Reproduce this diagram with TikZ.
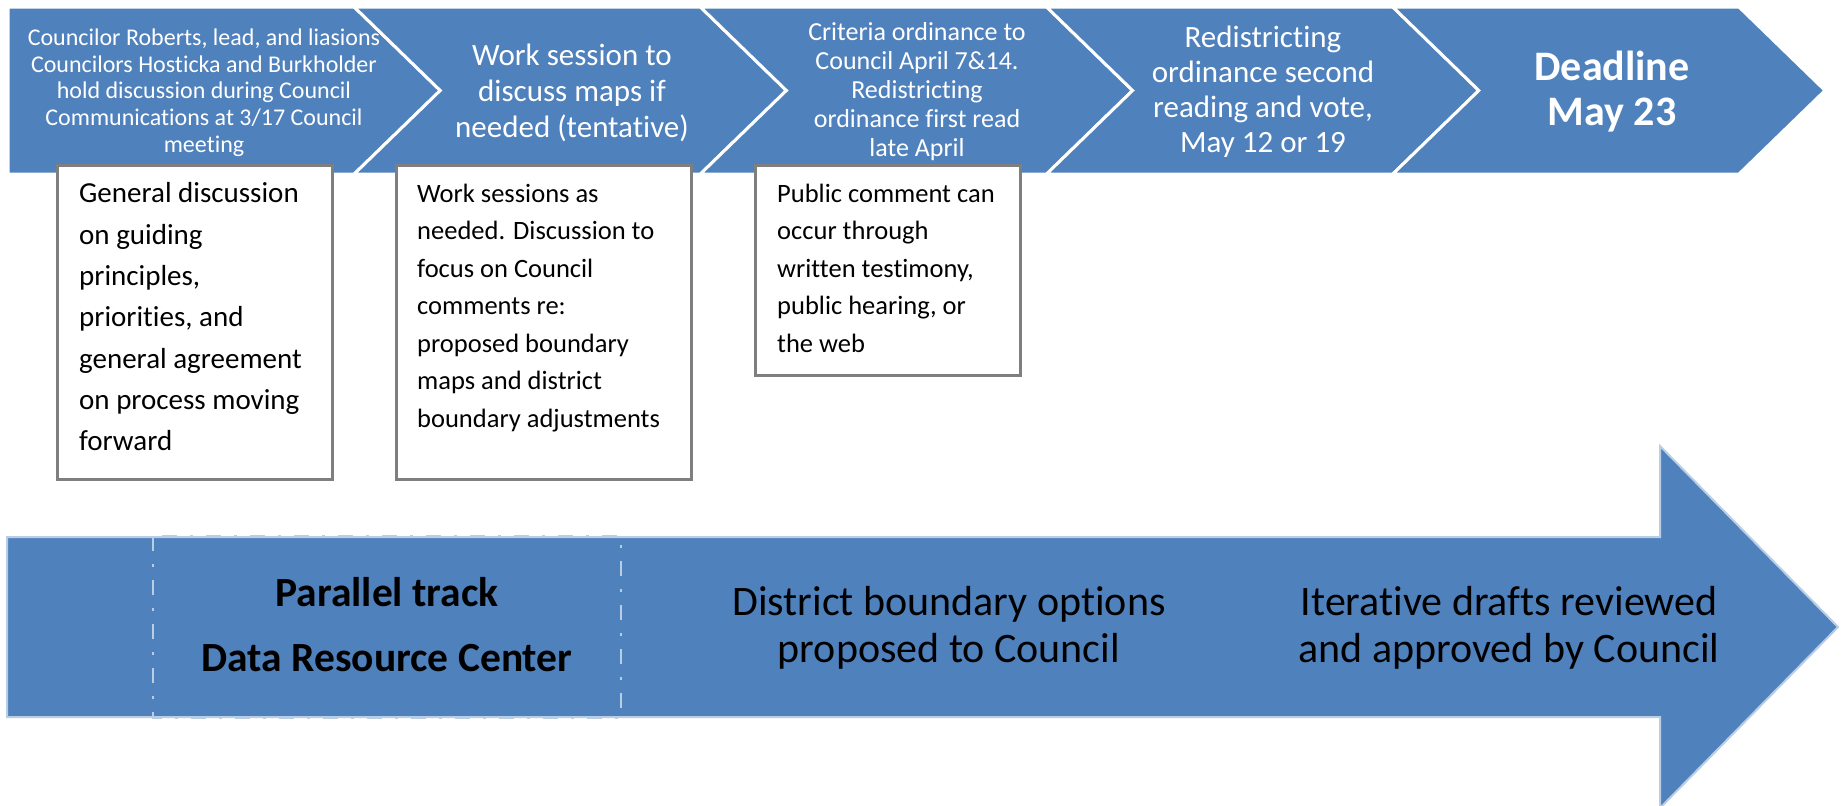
\documentclass[tikz,border=0pt]{standalone}
\usepackage{fontspec}
\setmainfont{Carlito}[Ligatures=NoCommon]
\usepackage{tikz}
\definecolor{chevblue}{HTML}{4F81BD}
\definecolor{edgeblue}{HTML}{B9CDE5}
\definecolor{boxgray}{HTML}{7F7F7F}

\begin{document}
\begin{tikzpicture}[x=1pt,y=-1pt,
    chevtext/.style={text=white,align=center,inner sep=0pt},
    notetext/.style={align=left,inner sep=0pt,anchor=north west,font=\fontsize{26.5}{37.5}\selectfont},
    notebox/.style={boxgray,line width=3,fill=white},
    bartext/.style={align=center,inner sep=0pt}]
    \useasboundingbox (0,0) rectangle (1848,806);
    % Chevrons along the top, the first one without a notch
    \foreach \i in {0,...,4} {
      \pgfmathsetmacro{\xl}{8+346.2*\i}
      \pgfmathsetmacro{\xr}{\xl+346.2}
      \pgfmathsetmacro{\nd}{(\i>0)*86}
      \draw[white,line width=3,fill=chevblue] (\xl,7) -- (\xr,7) -- ({\xr+86},90.5)
        -- (\xr,174) -- (\xl,174) -- ({\xl+\nd},90.5) -- cycle;
    }
    \node (c1) [chevtext,font=\fontsize{24}{26.7}\selectfont] at (204,92.5)
      {Councilor Roberts, lead, and liasions\\Councilors Hosticka and Burkholder\\hold discussion during Council\\Communications at 3/17 Council\\meeting};
    \node (c2) [chevtext,font=\fontsize{31}{35.8}\selectfont] at (572,93)
      {Work session to\\discuss maps if\\needed (tentative)};
    \node (c3) [chevtext,font=\fontsize{26}{29}\selectfont] at (917,92)
      {Criteria ordinance to\\Council April 7\&14.\\Redistricting\\ordinance first read\\late April};
    \node (c4) [chevtext,font=\fontsize{31}{35}\selectfont] at (1263,91.5)
      {Redistricting\\ordinance second\\reading and vote,\\May 12 or 19};
    \node (c5) [chevtext,font=\bfseries\fontsize{42}{45}\selectfont] at (1612,92)
      {Deadline\\May 23};
    % Note boxes hanging under the chevrons
    \draw[notebox] (57,165) rectangle (332,479);
    \draw[notebox] (396,165) rectangle (691,479);
    \draw[notebox] (755,165) rectangle (1020,375);
    \node (n1) [notetext,font=\fontsize{29}{41.3}\selectfont] at (79,182.5)
      {General discussion\\on guiding\\principles,\\priorities, and\\general agreement\\on process moving\\forward};
    \node (n2) [notetext] at (417,183.5)
      {Work sessions as\\needed. Discussion to\\focus on Council\\comments re:\\proposed boundary\\maps and district\\boundary adjustments};
    \node (n3) [notetext] at (777,183.5)
      {Public comment can\\occur through\\written testimony,\\public hearing, or\\the web};
    % Big arrow for the parallel track
    \draw[edgeblue,line width=2,fill=chevblue] (7,537) -- (1660,537) -- (1660,446) -- (1838,627)
      -- (1660,808) -- (1660,717) -- (7,717) -- cycle;
    \draw[edgeblue,line width=2,dash pattern=on 15pt off 13pt on 3pt off 13pt] (153,536) rectangle (621,718);
    \node (track) [bartext,font=\bfseries\fontsize{41.5}{65}\selectfont] at (387,625)
      {Parallel track\\Data Resource Center};
    \node (options) [bartext,font=\fontsize{42}{47}\selectfont] at (949,628)
      {District boundary options\\proposed to Council};
    \node (drafts) [bartext,font=\fontsize{42}{47}\selectfont] at (1509,628)
      {Iterative drafts reviewed\\and approved by Council};
\end{tikzpicture}
\end{document}
